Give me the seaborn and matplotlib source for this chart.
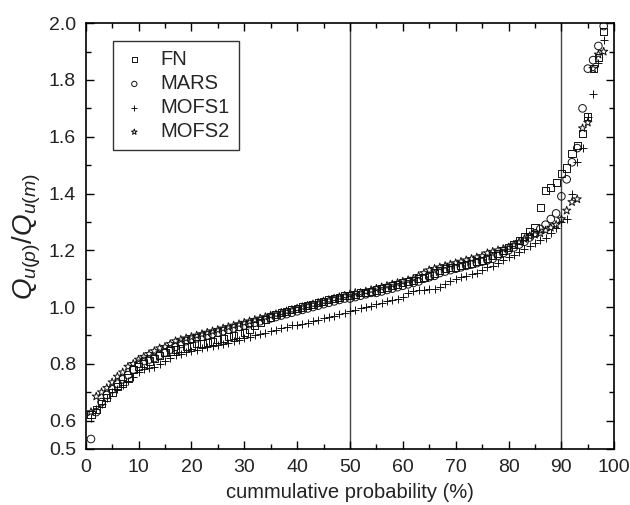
import matplotlib
matplotlib.use("Agg")
import matplotlib.pyplot as plt
import seaborn as sns
from matplotlib.ticker import MultipleLocator, FixedLocator

# cumulative probability (%) - plotting positions shared by all models
prob = list(range(1, 99))

fn = [0.62, 0.64, 0.66, 0.68, 0.70, 0.72, 0.73, 0.75, 0.78, 0.79,
      0.80, 0.81, 0.82, 0.83, 0.84, 0.845, 0.85, 0.855, 0.86, 0.865,
      0.87, 0.87, 0.875, 0.88, 0.885, 0.89, 0.895, 0.90, 0.905, 0.91,
      0.92, 0.935, 0.945, 0.955, 0.965, 0.975, 0.98, 0.985, 0.99, 0.995,
      1.0, 1.005, 1.01, 1.015, 1.02, 1.025, 1.03, 1.035, 1.04, 1.04,
      1.045, 1.05, 1.05, 1.055, 1.06, 1.065, 1.07, 1.075, 1.08, 1.085,
      1.09, 1.095, 1.10, 1.105, 1.11, 1.12, 1.13, 1.135, 1.14, 1.14,
      1.145, 1.15, 1.155, 1.16, 1.165, 1.17, 1.18, 1.19, 1.20, 1.21,
      1.22, 1.235, 1.25, 1.265, 1.28, 1.35, 1.41, 1.42, 1.44, 1.47,
      1.49, 1.54, 1.57, 1.61, 1.67, 1.84, 1.88, 1.97]

mars = [0.535, 0.63, 0.665, 0.69, 0.71, 0.73, 0.745, 0.76, 0.78, 0.80,
        0.81, 0.815, 0.82, 0.83, 0.84, 0.85, 0.86, 0.87, 0.88, 0.885,
        0.89, 0.895, 0.90, 0.905, 0.91, 0.915, 0.92, 0.925, 0.93, 0.935,
        0.94, 0.945, 0.95, 0.955, 0.96, 0.965, 0.97, 0.975, 0.98, 0.985,
        0.99, 0.995, 1.0, 1.005, 1.01, 1.015, 1.02, 1.025, 1.03, 1.03,
        1.035, 1.04, 1.045, 1.05, 1.05, 1.055, 1.06, 1.065, 1.07, 1.075,
        1.08, 1.085, 1.09, 1.10, 1.105, 1.11, 1.12, 1.125, 1.13, 1.135,
        1.14, 1.145, 1.15, 1.155, 1.16, 1.165, 1.17, 1.18, 1.19, 1.20,
        1.21, 1.22, 1.23, 1.245, 1.26, 1.275, 1.29, 1.31, 1.33, 1.39,
        1.45, 1.51, 1.56, 1.70, 1.84, 1.87, 1.92, 1.99]

mofs1 = [0.61, 0.64, 0.66, 0.68, 0.70, 0.71, 0.725, 0.74, 0.755, 0.77,
         0.78, 0.785, 0.79, 0.80, 0.81, 0.82, 0.83, 0.835, 0.84, 0.845,
         0.85, 0.855, 0.86, 0.862, 0.865, 0.87, 0.875, 0.88, 0.885, 0.89,
         0.895, 0.90, 0.905, 0.91, 0.915, 0.92, 0.925, 0.93, 0.935, 0.935,
         0.94, 0.945, 0.95, 0.955, 0.96, 0.965, 0.97, 0.975, 0.98, 0.985,
         0.99, 0.995, 1.0, 1.005, 1.01, 1.015, 1.02, 1.025, 1.03, 1.035,
         1.05, 1.055, 1.06, 1.06, 1.065, 1.065, 1.07, 1.08, 1.09, 1.10,
         1.105, 1.11, 1.115, 1.12, 1.13, 1.14, 1.145, 1.155, 1.165, 1.175,
         1.185, 1.195, 1.205, 1.215, 1.225, 1.235, 1.245, 1.26, 1.28, 1.30,
         1.31, 1.40, 1.51, 1.56, 1.67, 1.75, 1.86, 1.94]

mofs2 = [0.63, 0.685, 0.70, 0.715, 0.735, 0.755, 0.77, 0.79, 0.80, 0.815,
         0.825, 0.835, 0.845, 0.855, 0.86, 0.87, 0.88, 0.885, 0.89, 0.895,
         0.90, 0.905, 0.91, 0.915, 0.92, 0.925, 0.93, 0.935, 0.94, 0.945,
         0.95, 0.955, 0.96, 0.965, 0.97, 0.975, 0.98, 0.985, 0.99, 0.995,
         1.0, 1.005, 1.01, 1.015, 1.02, 1.025, 1.03, 1.035, 1.04, 1.045,
         1.05, 1.05, 1.055, 1.06, 1.065, 1.07, 1.075, 1.08, 1.085, 1.09,
         1.095, 1.10, 1.11, 1.12, 1.13, 1.135, 1.14, 1.145, 1.15, 1.155,
         1.16, 1.165, 1.17, 1.175, 1.18, 1.19, 1.195, 1.20, 1.205, 1.21,
         1.22, 1.23, 1.24, 1.25, 1.255, 1.26, 1.27, 1.28, 1.29, 1.31,
         1.34, 1.37, 1.38, 1.63, 1.65, 1.84, 1.89, 1.90]

sns.set_theme(style="ticks")
plt.rcParams["font.family"] = ["Liberation Sans", "DejaVu Sans"]
plt.rcParams["mathtext.fontset"] = "custom"
plt.rcParams["mathtext.rm"] = "Liberation Sans"
plt.rcParams["mathtext.it"] = "Liberation Sans:italic"

fig = plt.figure(figsize=(6.3, 5.05), dpi=100)
ax = fig.add_axes([0.136, 0.111, 0.839, 0.843])

series = [
    ("FN", fn, "s", 26),
    ("MARS", mars, "o", 30),
    ("MOFS1", mofs1, "+", 36),
    ("MOFS2", mofs2, "*", 38),
]
for name, vals, mk, size in series:
    if mk == "+":
        sns.scatterplot(x=prob, y=vals, marker=mk, s=size, color="#111111",
                        linewidth=0.7, label=name, ax=ax)
    else:
        sns.scatterplot(x=prob, y=vals, marker=mk, s=size, facecolors="none",
                        edgecolors="#111111", linewidth=0.7, label=name, ax=ax)

ax.axvline(50, color="#444444", lw=1.0, zorder=0)
ax.axvline(90, color="#444444", lw=1.0, zorder=0)

ax.set_xlim(0, 100)
ax.set_ylim(0.5, 2.0)
ax.xaxis.set_major_locator(MultipleLocator(10))
ax.xaxis.set_minor_locator(MultipleLocator(5))
ax.yaxis.set_major_locator(FixedLocator([0.5, 0.6, 0.8, 1.0, 1.2, 1.4, 1.6, 1.8, 2.0]))
ax.yaxis.set_minor_locator(FixedLocator([0.7, 0.9, 1.1, 1.3, 1.5, 1.7, 1.9]))
ax.set_yticklabels(["0.5", "0.6", "0.8", "1.0", "1.2", "1.4", "1.6", "1.8", "2.0"])
ax.tick_params(which="both", direction="in", top=True, right=True,
               color="black", width=1.0)
ax.tick_params(which="major", length=6, labelsize=14, pad=7, labelcolor="#222222")
ax.tick_params(which="minor", length=3.5)
for sp in ax.spines.values():
    sp.set_color("black")
    sp.set_linewidth(1.2)

ax.set_xlabel("cummulative probability (%)", fontsize=14.5, color="#222222", labelpad=5)
ax.set_ylabel(r"$Q_{u(p)}/Q_{u(m)}$", fontsize=20, color="#222222", labelpad=4)

leg = ax.legend(loc="upper left", bbox_to_anchor=(0.052, 0.958), frameon=True,
                fancybox=False, edgecolor="black", fontsize=14.5, markerscale=0.7,
                handletextpad=0.7, labelspacing=0.25, borderpad=0.45,
                handlelength=1.2, borderaxespad=0)
leg.get_frame().set_linewidth(1.0)

fig.savefig("out.png", dpi=100)
